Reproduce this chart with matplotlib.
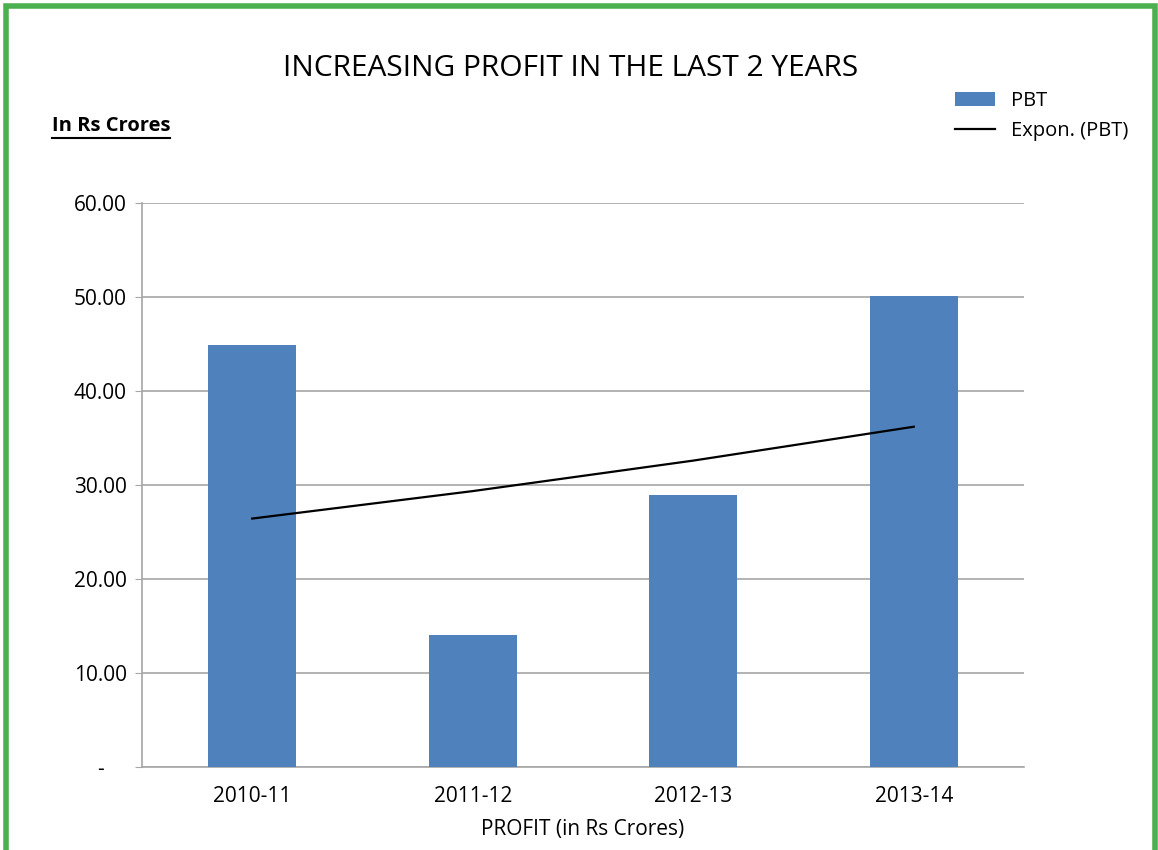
import matplotlib.pyplot as plt
import numpy as np
from matplotlib.patches import Rectangle

plt.rcParams['font.family'] = ['Open Sans', 'DejaVu Sans']

# data
years = ['2010-11', '2011-12', '2012-13', '2013-14']
pbt = [44.95, 14.05, 28.95, 50.10]
yticks = [0, 10, 20, 30, 40, 50, 60]
ylabels = ['-    ', '10.00', '20.00', '30.00', '40.00', '50.00', '60.00']

fig = plt.figure(figsize=(11.58, 8.5), dpi=100)
ax = fig.add_axes([0.1226, 0.0976, 0.7617, 0.6635])

x = np.arange(len(years))
bars = ax.bar(x, pbt, width=0.4, color='#4F81BD', label='PBT', zorder=3)

# exponential trendline (least squares on log values, like Excel)
xs = x + 1
b, a = np.polyfit(xs, np.log(pbt), 1)
trend = np.exp(a + b * xs)
line, = ax.plot(x, trend, color='black', lw=1.6, label='Expon. (PBT)', zorder=4)

ax.set_xlim(-0.5, 3.5)
ax.set_ylim(0, 60)
ax.set_yticks(yticks)
ax.set_yticklabels(ylabels, fontsize=15)
ax.set_xticks(x)
ax.set_xticklabels(years, fontsize=15)
ax.tick_params(axis='x', length=0, pad=14)
ax.tick_params(axis='y', length=5, color='#A6A6A6', pad=6)
ax.grid(axis='y', color='#A6A6A6', lw=1.2, zorder=0)
for s in ['top', 'right']:
    ax.spines[s].set_visible(False)
for s in ['left', 'bottom']:
    ax.spines[s].set_color('#A6A6A6')
    ax.spines[s].set_linewidth(1.2)
ax.set_xlabel('PROFIT (in Rs Crores)', fontsize=15, labelpad=8)

fig.text(0.493, 0.920, 'INCREASING PROFIT IN THE LAST 2 YEARS', fontsize=21.5,
         ha='center', va='center')
fig.text(0.045, 0.852, 'In Rs Crores', fontsize=14.5, fontweight='bold',
         ha='left', va='center')
fig.add_artist(plt.Line2D([0.045, 0.147], [0.838, 0.838], color='black', lw=1.5))

ax.legend([bars, line], ['PBT', 'Expon. (PBT)'], loc='upper left',
          bbox_to_anchor=(0.816, 0.905), bbox_transform=fig.transFigure,
          frameon=False, fontsize=14.5, handlelength=2.0, labelspacing=0.5,
          handletextpad=0.8, borderpad=0)

# green border
fig.add_artist(Rectangle((0.005, -0.01), 0.992, 1.003, transform=fig.transFigure,
                         fill=False, edgecolor='#4CAF50', lw=4))

fig.savefig('out.png', dpi=100)
